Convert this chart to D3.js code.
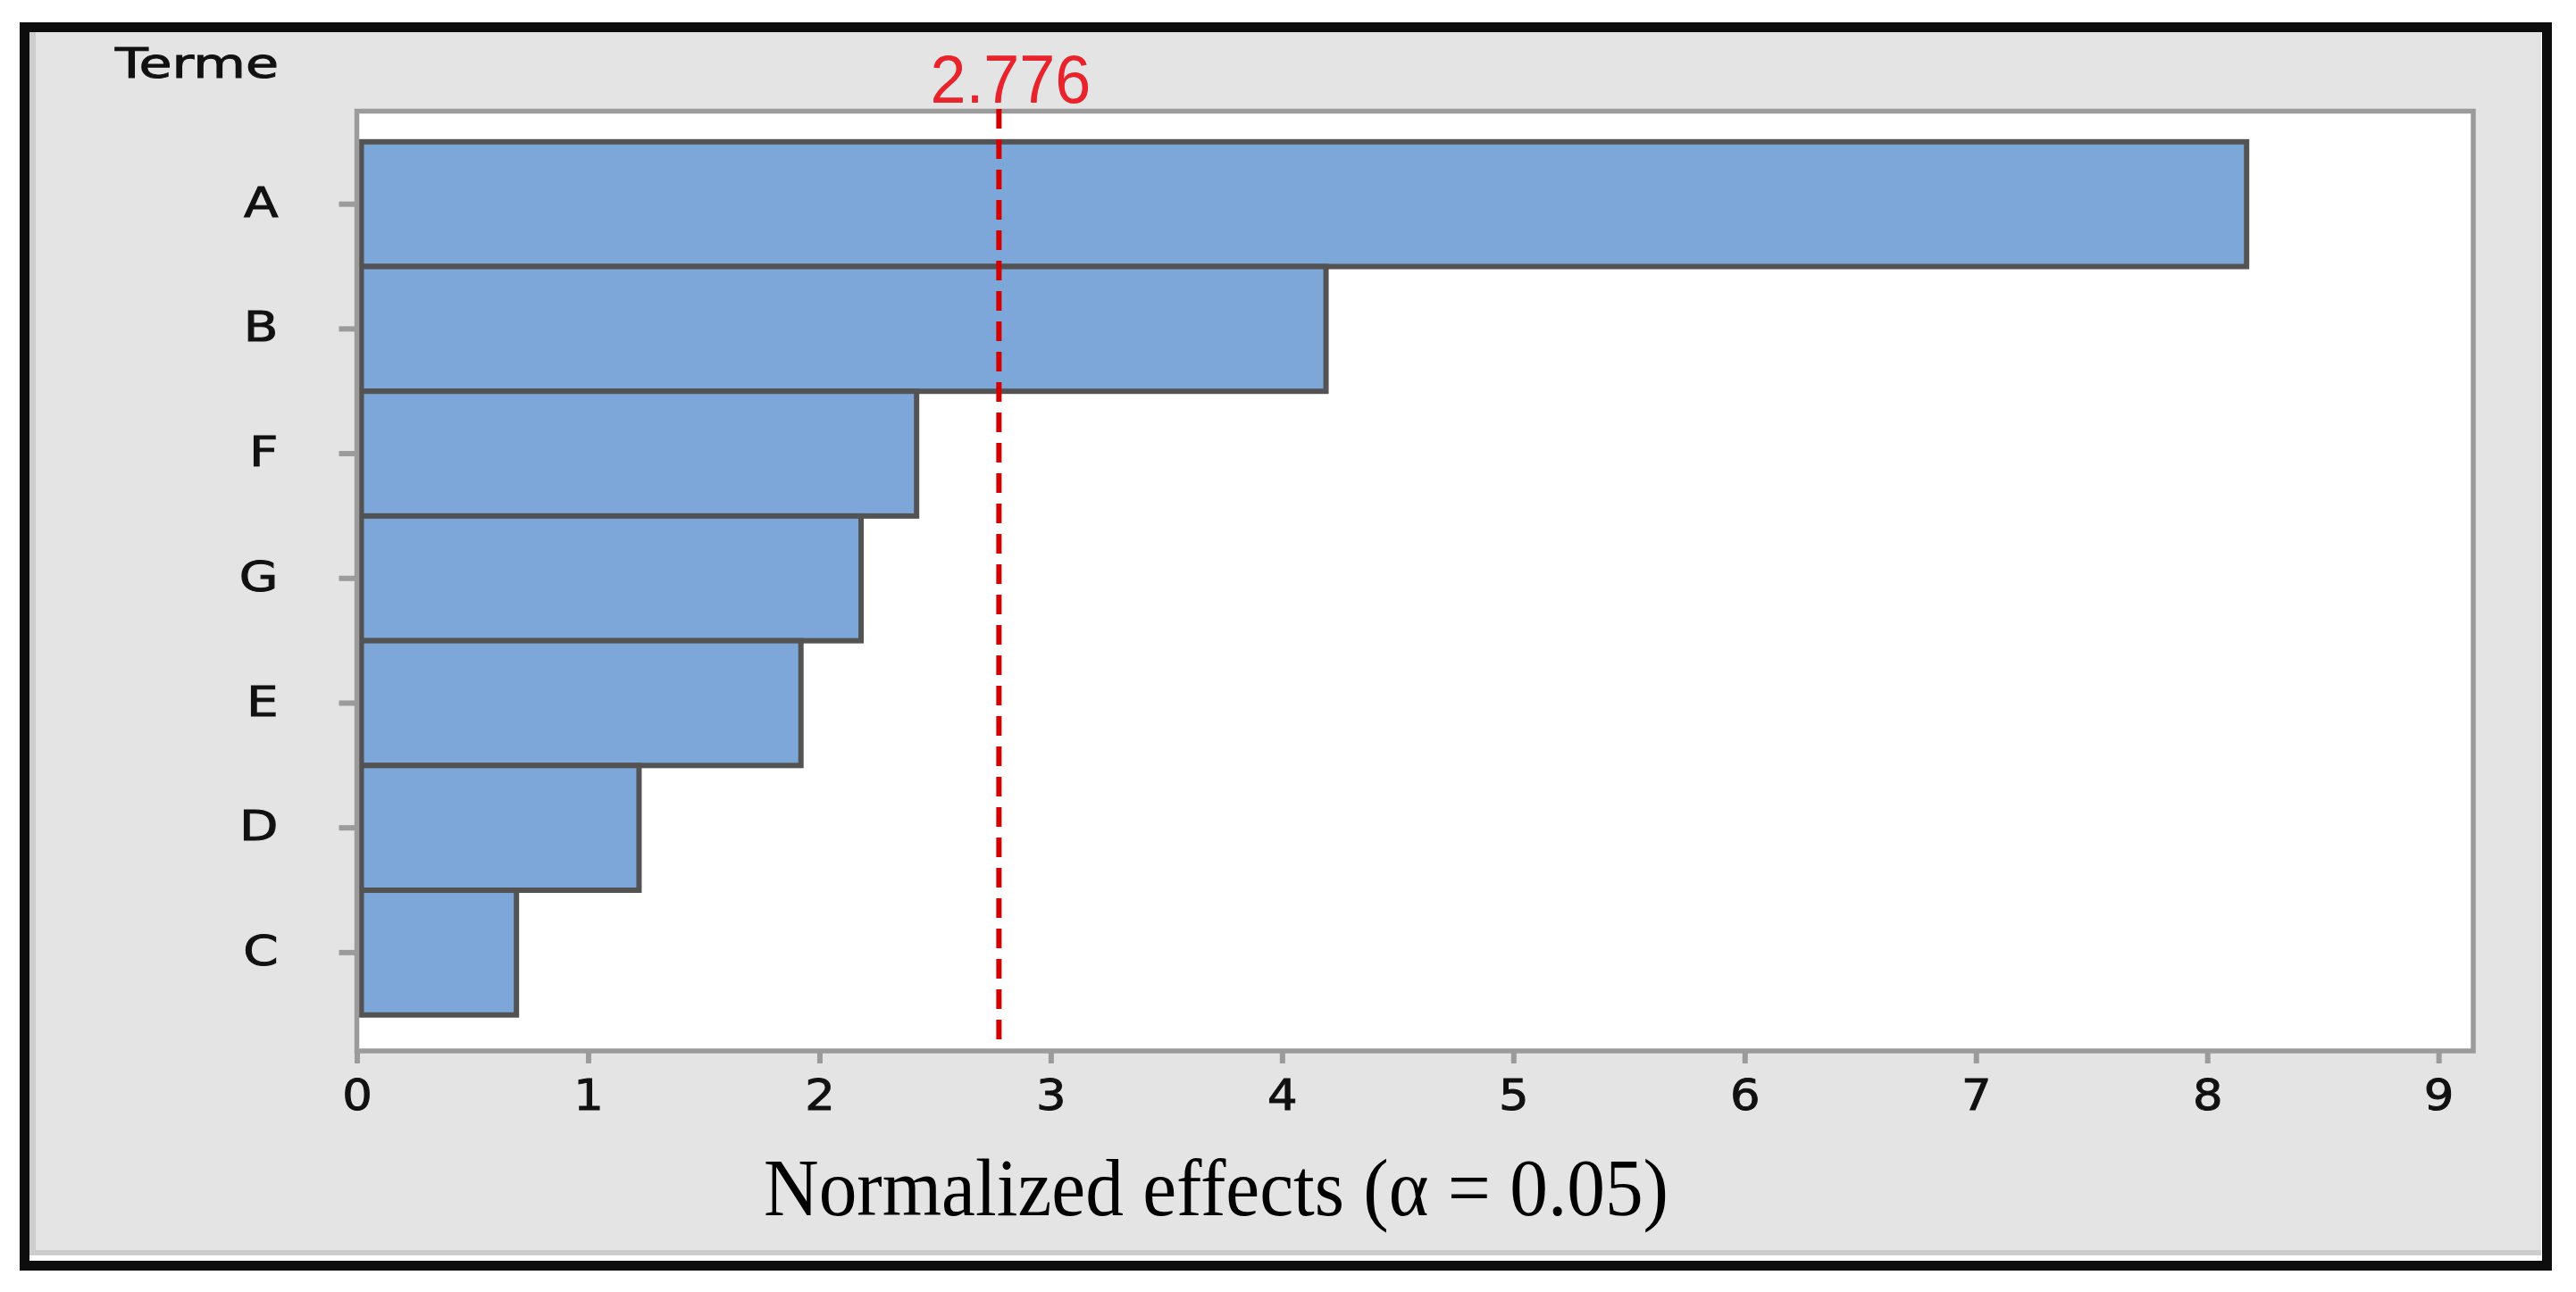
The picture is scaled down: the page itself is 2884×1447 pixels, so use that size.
<!DOCTYPE html>
<html>
<head>
<meta charset="utf-8">
<script src="https://cdn.jsdelivr.net/npm/d3@7"></script>
<style>
body { margin: 0; background: #fff; }
</style>
</head>
<body>
<div id="chart"></div>
<script>
// Pareto of normalized effects, largest term on top
const terms = ["A", "B", "F", "G", "E", "D", "C"];
const effects = [8.17, 4.19, 2.42, 2.18, 1.92, 1.22, 0.69];
const critical = 2.776;
const xTicks = [0, 1, 2, 3, 4, 5, 6, 7, 8, 9];
const xMax = 9.15;
const yTitle = "Terme";
const xTitle = "Normalized effects (α = 0.05)";

const width = 2884;
const height = 1447;

const svg = d3.select("#chart")
    .append("svg")
        .attr("width", width)
        .attr("height", height);

// outer black frame and grey panel
svg.append("rect")
    .attr("x", 27.5).attr("y", 30.5)
    .attr("width", 2824).attr("height", 1387)
    .attr("fill", "#fff")
    .attr("stroke", "#0d0d0d")
    .attr("stroke-width", 11);
svg.append("rect")
    .attr("x", 33).attr("y", 36)
    .attr("width", 2812).attr("height", 1370)
    .attr("fill", "#cdcdcd");
svg.append("rect")
    .attr("x", 40).attr("y", 36)
    .attr("width", 2805).attr("height", 1364)
    .attr("fill", "#e4e4e4");

const plot = {left: 399.5, right: 2769, top: 124.5, bottom: 1177};

const x = d3.scaleLinear()
    .domain([0, xMax])
    .range([plot.left, plot.right]);

const y = d3.scaleBand()
    .domain(terms)
    .range([plot.top, plot.bottom])
    .paddingInner(0)
    .paddingOuter(0.267)
    .align(0.46);

// white data area
svg.append("rect")
    .attr("x", plot.left).attr("y", plot.top)
    .attr("width", plot.right - plot.left)
    .attr("height", plot.bottom - plot.top)
    .attr("fill", "#fff");

// y axis (terms)
const yAxis = svg.append("g")
    .attr("transform", `translate(${plot.left},0)`)
    .call(d3.axisLeft(y).tickSize(20).tickSizeOuter(0));
yAxis.select(".domain").remove();
yAxis.selectAll(".tick line")
    .attr("stroke", "#9b9b9b")
    .attr("stroke-width", 6);
yAxis.selectAll(".tick text")
    .attr("x", -88 / 1.2)
    .attr("dy", "0.3em")
    .attr("transform", "scale(1.2,1)")
    .attr("font-family", "DejaVu Sans")
    .attr("font-size", 47)
    .attr("fill", "#111")
    .attr("stroke", "#111")
    .attr("stroke-width", 1);

// x axis
const xAxis = svg.append("g")
    .attr("transform", `translate(0,${plot.bottom})`)
    .call(d3.axisBottom(x).tickValues(xTicks).tickSize(14).tickSizeOuter(0));
xAxis.select(".domain").remove();
xAxis.selectAll(".tick line")
    .attr("stroke", "#9b9b9b")
    .attr("stroke-width", 6);
xAxis.selectAll(".tick text")
    .attr("y", 66)
    .attr("dy", 0)
    .attr("transform", "scale(1.1,1)")
    .attr("font-family", "DejaVu Sans")
    .attr("font-size", 48)
    .attr("fill", "#111")
    .attr("stroke", "#111")
    .attr("stroke-width", 1);

// bars
svg.append("g")
    .selectAll("rect")
    .data(terms)
    .join("rect")
        .attr("x", x(0) + 5)
        .attr("y", d => y(d))
        .attr("width", (d, i) => x(effects[i]) - x(0) - 5)
        .attr("height", y.bandwidth())
        .attr("fill", "#7da7d8")
        .attr("stroke", "#535353")
        .attr("stroke-width", 6);

// data area border
svg.append("rect")
    .attr("x", plot.left).attr("y", plot.top)
    .attr("width", plot.right - plot.left)
    .attr("height", plot.bottom - plot.top)
    .attr("fill", "none")
    .attr("stroke", "#9b9b9b")
    .attr("stroke-width", 5.5);

// critical value reference line
svg.append("line")
    .attr("x1", x(critical)).attr("x2", x(critical))
    .attr("y1", plot.top - 2.5).attr("y2", plot.bottom - 3)
    .attr("stroke", "#d40000")
    .attr("stroke-width", 6)
    .attr("stroke-dasharray", "22,12");

svg.append("text")
    .attr("x", x(critical) + 13)
    .attr("y", 115)
    .attr("text-anchor", "middle")
    .attr("font-family", "Liberation Sans")
    .attr("font-size", 76)
    .attr("textLength", 180)
    .attr("lengthAdjust", "spacingAndGlyphs")
    .attr("fill", "#e8232c")
    .text(critical);

// titles
svg.append("text")
    .attr("x", 312)
    .attr("y", 87)
    .attr("text-anchor", "end")
    .attr("font-family", "DejaVu Sans")
    .attr("font-size", 47)
    .attr("textLength", 183)
    .attr("lengthAdjust", "spacingAndGlyphs")
    .attr("fill", "#111")
    .attr("stroke", "#111")
    .attr("stroke-width", 1)
    .text(yTitle);

svg.append("text")
    .attr("x", 1361.5)
    .attr("y", 1361)
    .attr("text-anchor", "middle")
    .attr("font-family", "Liberation Serif, 'Times New Roman', serif")
    .attr("font-size", 92)
    .attr("textLength", 1013)
    .attr("lengthAdjust", "spacingAndGlyphs")
    .attr("fill", "#000")
    .text(xTitle);
</script>
</body>
</html>
